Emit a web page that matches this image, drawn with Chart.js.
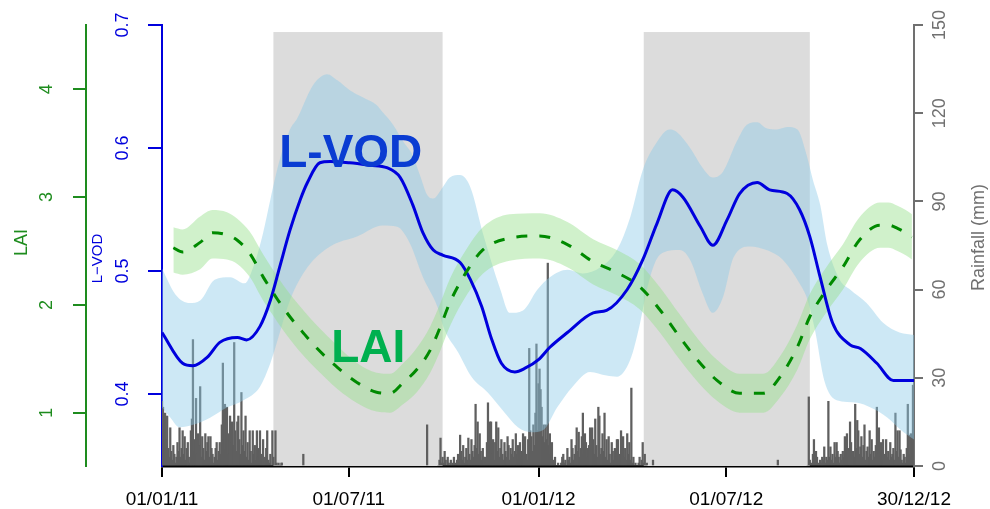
<!DOCTYPE html>
<html>
<head>
<meta charset="utf-8">
<title>L-VOD, LAI and rainfall 2011-2012</title>
<script src="https://cdn.jsdelivr.net/npm/chart.js@4.4.1/dist/chart.umd.min.js"></script>
<style>
  html, body { margin: 0; padding: 0; background: #ffffff; }
  #wrap { width: 990px; height: 509px; }
</style>
</head>
<body>
<div id="wrap"><canvas id="c" width="990" height="509"></canvas></div>
<script>
// ---- time axis (days since 01/01/2011) ----
const xTickDays = [0, 181, 365, 547, 729];
const xTickLabels = ['01/01/11', '01/07/11', '01/01/12', '01/07/12', '30/12/12'];

// ---- axis ticks ----
const laiTicks = [1, 2, 3, 4];
const vodTicks = [0.4, 0.5, 0.6, 0.7];
const rainTicks = [0, 30, 60, 90, 120, 150];

// ---- dry seasons (shaded), in days ----
const dryStart = [108, 467];
const dryEnd = [272, 628];
const shadeTopMm = 147.6;

// ---- L-VOD mean ----
const vodDays = [0,20,30,44,56,73,82,95,105,114,124,134,141,153,163,182,202,218,231,243,253,263,272,289,299,310,319,329,342,352,365,376,393,418,431,451,466,480,495,505,522,534,548,560,577,589,606,618,628,638,650,667,677,693,709,729];
const vodMean = [0.450,0.425,0.423,0.430,0.442,0.446,0.444,0.455,0.476,0.503,0.533,0.558,0.572,0.588,0.589,0.588,0.586,0.584,0.576,0.554,0.531,0.517,0.513,0.507,0.493,0.471,0.446,0.425,0.418,0.421,0.428,0.438,0.450,0.466,0.468,0.485,0.509,0.539,0.566,0.560,0.536,0.521,0.542,0.563,0.572,0.566,0.563,0.550,0.528,0.495,0.458,0.440,0.437,0.425,0.411,0.411];

// ---- L-VOD envelope ----
const vodUpperDays = [0,13,27,37,51,66,80,90,98,105,114,124,131,143,150,160,170,182,195,208,214,224,234,243,250,257,263,272,279,289,299,311,328,337,350,364,376,393,408,425,441,454,466,480,492,499,512,524,534,544,557,567,577,586,596,606,616,625,631,638,645,657,667,683,699,715,729];
const vodUpper = [0.502,0.481,0.474,0.476,0.493,0.495,0.490,0.507,0.531,0.558,0.590,0.615,0.624,0.646,0.655,0.660,0.655,0.647,0.641,0.635,0.629,0.619,0.605,0.594,0.578,0.562,0.559,0.568,0.576,0.578,0.568,0.531,0.485,0.466,0.468,0.485,0.495,0.501,0.498,0.503,0.517,0.544,0.582,0.605,0.615,0.613,0.600,0.584,0.576,0.581,0.605,0.619,0.621,0.616,0.615,0.617,0.615,0.594,0.574,0.554,0.521,0.493,0.485,0.474,0.458,0.450,0.448];
const vodLowerDays = [0,8,17,30,47,63,79,95,105,110,124,141,163,189,214,228,240,253,267,274,287,300,316,332,345,358,370,383,398,415,431,441,454,463,470,478,486,502,512,524,534,544,554,570,586,602,618,626,633,642,654,674,687,703,716,729];
const vodLower = [0.389,0.381,0.373,0.375,0.381,0.389,0.395,0.406,0.425,0.438,0.476,0.503,0.520,0.528,0.537,0.536,0.523,0.495,0.471,0.452,0.434,0.414,0.401,0.385,0.373,0.369,0.371,0.389,0.406,0.418,0.415,0.414,0.428,0.456,0.485,0.507,0.515,0.517,0.509,0.482,0.466,0.479,0.511,0.520,0.517,0.509,0.490,0.476,0.452,0.411,0.395,0.393,0.389,0.381,0.371,0.363];

// ---- LAI mean and envelope ----
const laiDays = [11,20,37,49,63,73,85,98,112,124,137,150,170,189,208,221,234,247,260,270,279,296,311,337,366,393,418,441,463,483,502,519,538,560,583,599,616,628,644,660,676,696,704,713,721,727];
const laiMean = [2.53,2.49,2.58,2.67,2.65,2.60,2.48,2.26,2.05,1.89,1.74,1.60,1.42,1.28,1.19,1.18,1.28,1.40,1.58,1.80,2.02,2.32,2.51,2.62,2.64,2.56,2.40,2.30,2.17,1.95,1.70,1.49,1.30,1.18,1.18,1.33,1.61,1.89,2.14,2.35,2.60,2.74,2.74,2.71,2.67,2.63];
const laiUpper = [2.72,2.70,2.82,2.88,2.86,2.80,2.68,2.47,2.26,2.10,1.95,1.81,1.62,1.46,1.37,1.36,1.46,1.60,1.80,2.02,2.24,2.53,2.72,2.84,2.85,2.77,2.61,2.51,2.38,2.16,1.91,1.69,1.49,1.36,1.36,1.52,1.82,2.10,2.35,2.56,2.81,2.95,2.95,2.92,2.88,2.84];
const laiLower = [2.30,2.28,2.33,2.43,2.42,2.38,2.26,2.04,1.84,1.68,1.53,1.40,1.22,1.09,1.01,1.00,1.08,1.19,1.37,1.58,1.80,2.10,2.29,2.41,2.43,2.35,2.19,2.09,1.96,1.74,1.49,1.29,1.11,1.00,1.00,1.14,1.40,1.68,1.93,2.14,2.39,2.53,2.53,2.50,2.46,2.42];

// ---- daily rainfall (mm): wet-season runs starting at the given day ----
const rainRunStart = [0, 268, 626];
const rainRun2011 = [22,20,14,18,9,17,6,3,13,5,2,7,4,1,3,8,5,13,3,6,12,4,10,2,6,8,3,1,12,16,43,9,5,23,4,11,7,27,3,10,6,2,11,5,8,10,3,10,6,4,1,3,6,8,2,5,8,4,14,35,9,21,6,20,11,4,17,8,15,7,42,12,5,15,17,9,4,25,7,12,5,17,3,8,2,12,5,1,12,4,7,2,12,3,6,12,2,4,9,1,3,6,12,2,1,4,0,12,3,0,12,1,0,1,0,0,1];
const rainRun2011_12 = [0,2,9.5,1,3,1,5,2,0,3,1,0,2,0,1,3,0,1,2,4,1,10.5,5,2,7,1,3,6,2,9.5,4,2,9,5,3,7,21,6,15,4,11,5,2,6,3,3,1,8,21.5,7,15,15,4,9,2,8,15,5,13,3,6,9,4,2,8,5,3,10,7,2,6,4,9,3,5,11,4,7,2,8,5,3,11,6,10,4,2,9,40,12,10,5,14,7,18,41.5,12,28,33,26,20,10,14,8,14,9,69,7,11,4,8,2,1,3,0,0,1,0,0,1,3,4,1,2,0,6,2,3,1,9,6,2,4,7,13,5,11.5,3,6,10,18,4,11,8,6,3,7,13,5,13,9,4,16,7,3,20,17,4,6,11,5,18,3,9,2,10,4,1,8,5,2,6,3,9,9,4,2,12,5,10,3,6,2,11,4,8,2,26.5,1,3,0,1,0,0,1,3,0,2,8,1,4,0,1];
const rainRun2012 = [0,23.5,2,1,0,4,9,2,5,3,1,0,2,1,3,2,6.5,1,3,2,22,3,6.5,2,4,1,8,3,8,5,3,1,4,2,5,3,10,4,11,6,3,15,8,2,5,3,21,6,15.5,12,4,6.5,10,3,7,14,2,5,6.5,3,12,4,9,2,5,3,7,20,4,13,3,8,5,9,2,4,9,3,5,2,8,3,4,6,2,18,5,12,3,12,5.5,2,1,4,3,1,6,21,10.5,4,11,3,27.5,8];
// isolated dry-season showers: [day, mm]
const rainIsolated = [[116, 1], [137, 4], [257, 14], [476, 2], [597, 2]];

// ---- styling ----
const FONT = "'Liberation Sans', Arial, sans-serif";
const LAI_COL = '#1e8c1e';
const VOD_COL = '#0000dd';
const RAIN_COL = '#707070';

const pts = (xs, ys) => xs.map((d, i) => ({ x: d, y: ys[i] }));

const rainPoints = [];
[rainRun2011, rainRun2011_12, rainRun2012].forEach((run, k) => {
  run.forEach((mm, i) => rainPoints.push({ x: rainRunStart[k] + i, y: mm }));
});
rainIsolated.forEach(([d, mm]) => rainPoints.push({ x: d, y: mm }));
rainPoints.sort((a, b) => a.x - b.x);

// Big in-plot labels, anchored in data coordinates
const notes = [
  { text: 'L-VOD', day: 183, value: 0.5845, axis: 'yVod', color: '#0a3cd2' },
  { text: 'LAI', day: 200, value: 1.47, axis: 'yLai', color: '#00b04f' }
];

const decor = {
  id: 'decor',
  beforeDatasetsDraw(chart) {
    const { ctx, scales } = chart;
    const top = scales.yRain.getPixelForValue(shadeTopMm);
    const bottom = scales.yRain.getPixelForValue(0);
    ctx.save();
    ctx.fillStyle = '#dcdcdc';
    dryStart.forEach((d, i) => {
      const x0 = scales.x.getPixelForValue(d);
      const x1 = scales.x.getPixelForValue(dryEnd[i]);
      ctx.fillRect(x0, top, x1 - x0, bottom - top);
    });
    ctx.restore();
  },
  afterDatasetsDraw(chart) {
    const { ctx, scales } = chart;
    ctx.save();
    ctx.font = 'bold 46px ' + FONT;
    ctx.textAlign = 'center';
    ctx.textBaseline = 'alphabetic';
    notes.forEach(n => {
      ctx.fillStyle = n.color;
      ctx.fillText(n.text, scales.x.getPixelForValue(n.day), scales[n.axis].getPixelForValue(n.value));
    });
    ctx.restore();
  },
  afterDraw(chart) {
    const { ctx, chartArea, scales } = chart;
    const mid = (chartArea.top + chartArea.bottom) / 2;
    const titles = [
      { text: 'LAI', x: scales.yLai.left + 22, y: mid - 3, size: 18, color: LAI_COL },
      { text: 'L\u2212VOD', x: scales.yVod.left + 12, y: mid + 13, size: 15, color: VOD_COL },
      { text: 'Rainfall (mm)', x: scales.yRain.right - 11, y: mid - 8, size: 18, color: RAIN_COL }
    ];
    ctx.save();
    ctx.textAlign = 'center';
    ctx.textBaseline = 'middle';
    titles.forEach(t => {
      ctx.save();
      ctx.translate(t.x, t.y);
      ctx.rotate(-Math.PI / 2);
      ctx.font = t.size + 'px ' + FONT;
      ctx.fillStyle = t.color;
      ctx.fillText(t.text, 0, 0);
      ctx.restore();
    });
    ctx.restore();
  }
};

function yAxis(opts) {
  return {
    type: 'linear',
    position: opts.position,
    weight: opts.weight,
    min: opts.min,
    max: opts.max,
    z: 1,
    afterBuildTicks: s => { s.ticks = opts.ticks.map(v => ({ value: v })); },
    afterFit: s => { s.width = opts.width; s.paddingTop = 0; s.paddingBottom = 0; },
    border: { display: true, color: opts.color, width: 2 },
    grid: { drawOnChartArea: false, drawTicks: true, tickLength: opts.tickLength, color: opts.color, lineWidth: 2 },
    ticks: {
      color: opts.color,
      font: { family: FONT, size: 18 },
      minRotation: 90, maxRotation: 90,
      crossAlign: 'center',
      padding: opts.padding,
      autoSkip: false,
      callback: opts.format
    }
  };
}

new Chart(document.getElementById('c'), {
  type: 'line',
  data: {
    datasets: [
      { type: 'bar', data: rainPoints, yAxisID: 'yRain', backgroundColor: '#5f5f5f', barThickness: 1.6, order: 6 },
      { data: pts(vodUpperDays, vodUpper), yAxisID: 'yVod', borderWidth: 0, pointRadius: 0, fill: false, order: 5, cubicInterpolationMode: 'monotone' },
      { data: pts(vodLowerDays, vodLower), yAxisID: 'yVod', borderWidth: 0, pointRadius: 0, fill: { target: 1 }, backgroundColor: 'rgba(139,201,232,0.43)', order: 5, cubicInterpolationMode: 'monotone' },
      { data: pts(laiDays, laiUpper), yAxisID: 'yLai', borderWidth: 0, pointRadius: 0, fill: false, order: 4, cubicInterpolationMode: 'monotone' },
      { data: pts(laiDays, laiLower), yAxisID: 'yLai', borderWidth: 0, pointRadius: 0, fill: { target: 3 }, backgroundColor: 'rgba(150,225,140,0.45)', order: 4, cubicInterpolationMode: 'monotone' },
      { data: pts(vodDays, vodMean), yAxisID: 'yVod', borderColor: VOD_COL, borderWidth: 3, pointRadius: 0, fill: false, order: 2, cubicInterpolationMode: 'monotone' },
      { data: pts(laiDays, laiMean), yAxisID: 'yLai', borderColor: '#008a00', borderWidth: 3, borderDash: [11, 12], pointRadius: 0, fill: false, order: 1, cubicInterpolationMode: 'monotone' }
    ]
  },
  options: {
    responsive: false,
    animation: false,
    devicePixelRatio: 1,
    events: [],
    layout: { padding: { top: 25, left: 0, right: 0, bottom: 0 } },
    plugins: { legend: { display: false }, tooltip: { enabled: false }, filler: { propagate: false } },
    scales: {
      x: {
        type: 'linear', min: 0, max: 729, offset: false, position: 'bottom', z: 1,
        afterBuildTicks: s => { s.ticks = xTickDays.map(v => ({ value: v })); },
        afterFit: s => { s.height = 43; },
        border: { display: true, color: '#000000', width: 2.5 },
        grid: { drawOnChartArea: false, drawTicks: true, tickLength: 11, color: '#000000', lineWidth: 2, offset: false },
        ticks: {
          color: '#000000', font: { family: FONT, size: 19 }, padding: 11,
          minRotation: 0, maxRotation: 0, autoSkip: false,
          callback: v => xTickLabels[xTickDays.indexOf(v)]
        }
      },
      yLai: yAxis({ position: 'left', weight: 2, min: 0.505, max: 4.597, ticks: laiTicks, width: 86, color: LAI_COL, tickLength: 13, padding: 21, format: v => String(v) }),
      yVod: yAxis({ position: 'left', weight: 1, min: 0.3415, max: 0.7, ticks: vodTicks, width: 76, color: VOD_COL, tickLength: 14, padding: 12, format: v => v.toFixed(1) }),
      yRain: yAxis({ position: 'right', weight: 1, min: 0, max: 150, ticks: rainTicks, width: 76, color: RAIN_COL, tickLength: 9, padding: 2, format: v => String(v) })
    }
  },
  plugins: [decor]
});
</script>
</body>
</html>
